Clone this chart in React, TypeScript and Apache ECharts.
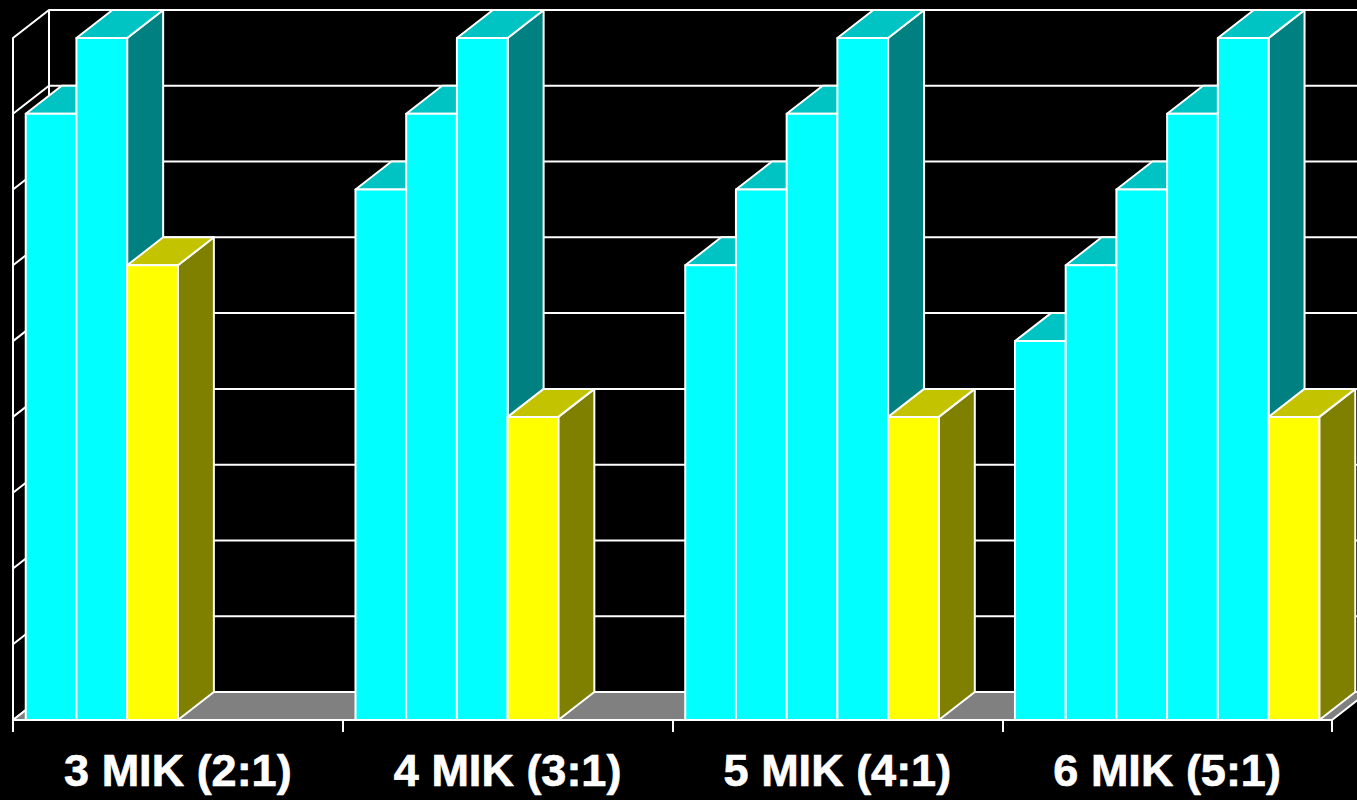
import React, { useEffect, useRef } from "react";
import * as echarts from "echarts";

const categories = ["3 MIK (2:1)", "4 MIK (3:1)", "5 MIK (4:1)", "6 MIK (5:1)"];
const cyanValues = [
  [8, 9],
  [7, 8, 9],
  [6, 7, 8, 9],
  [5, 6, 7, 8, 9],
];
const yellowValues = [6, 4, 4, 4];
const gridValues = [0, 1, 2, 3, 4, 5, 6, 7, 8, 9];

// Oblique projection of the box depth, in pixels.
const DEPTH_X = 36;
const DEPTH_Y = 28;
const BAR_SHARE = 0.1538; // share of a category band taken by one bar
const LINE = "#ffffff";
const LINE_WIDTH = 2;

const PALETTE = {
  cyan: { front: "#00ffff", top: "#00c3c3", side: "#008080" },
  yellow: { front: "#ffff00", top: "#c3c300", side: "#808000" },
};

// [category index, slot within the cluster, value, colour key]
const barRows: [number, number, number, string][] = [];
categories.forEach((_, c) => {
  cyanValues[c].forEach((v, s) => barRows.push([c, s, v, "cyan"]));
  barRows.push([c, cyanValues[c].length, yellowValues[c], "yellow"]);
});

const edge = { stroke: LINE, lineWidth: LINE_WIDTH, lineJoin: "round" };

function renderBar(_params: any, api: any) {
  const cat = api.value(0);
  const slot = api.value(1);
  const value = api.value(2);
  const colours = PALETTE[barRows[_params.dataIndex][3] as "cyan" | "yellow"];
  const band = api.size([1, 0])[0];
  const w = band * BAR_SHARE;
  const [cx, top] = api.coord([cat, value]);
  const [, base] = api.coord([cat, 0]);
  const left = cx - (w * 6) / 2 + slot * w;
  const right = left + w;
  return {
    type: "group",
    children: [
      {
        type: "polygon",
        shape: {
          points: [
            [right, base],
            [right + DEPTH_X, base - DEPTH_Y],
            [right + DEPTH_X, top - DEPTH_Y],
            [right, top],
          ],
        },
        style: { fill: colours.side, ...edge },
      },
      {
        type: "polygon",
        shape: {
          points: [
            [left, top],
            [left + DEPTH_X, top - DEPTH_Y],
            [right + DEPTH_X, top - DEPTH_Y],
            [right, top],
          ],
        },
        style: { fill: colours.top, ...edge },
      },
      {
        type: "rect",
        shape: { x: left, y: top, width: w, height: base - top },
        style: { fill: colours.front, ...edge },
      },
    ],
  };
}

// Gridline running along the left wall and then across the back wall.
function renderGridline(params: any, api: any) {
  const sys = params.coordSys;
  const y = api.coord([0, api.value(0)])[1];
  return {
    type: "polyline",
    shape: {
      points: [
        [sys.x, y],
        [sys.x + DEPTH_X, y - DEPTH_Y],
        [sys.x + sys.width + DEPTH_X, y - DEPTH_Y],
      ],
    },
    style: { fill: "none", stroke: LINE, lineWidth: LINE_WIDTH },
  };
}

// Grey floor plus the vertical edge where the two walls meet.
function renderFloor(params: any, api: any) {
  const sys = params.coordSys;
  const base = api.coord([0, 0])[1];
  const right = sys.x + sys.width;
  return {
    type: "group",
    children: [
      {
        type: "polygon",
        shape: {
          points: [
            [sys.x, base],
            [sys.x + DEPTH_X, base - DEPTH_Y],
            [right + DEPTH_X, base - DEPTH_Y],
            [right, base],
          ],
        },
        style: { fill: "#808080", ...edge },
      },
      {
        type: "line",
        shape: {
          x1: sys.x + DEPTH_X,
          y1: base - DEPTH_Y,
          x2: sys.x + DEPTH_X,
          y2: sys.y - DEPTH_Y,
        },
        style: { stroke: LINE, lineWidth: LINE_WIDTH },
      },
    ],
  };
}

export default function App() {
  const ref = useRef<HTMLDivElement>(null);

  useEffect(() => {
    const chart = echarts.init(ref.current!, null, { renderer: "svg" });
    chart.setOption({
      animation: false,
      backgroundColor: "#000000",
      grid: { left: 13, right: 25, top: 38, bottom: 80 },
      xAxis: {
        type: "category",
        data: categories,
        boundaryGap: true,
        axisLine: { show: true, lineStyle: { color: LINE, width: LINE_WIDTH } },
        axisTick: { show: true, length: 12, lineStyle: { color: LINE, width: LINE_WIDTH } },
        axisLabel: {
          interval: 0,
          color: "#ffffff",
          fontSize: 45,
          fontWeight: "bold",
          fontFamily: "Liberation Sans",
          margin: 28,
          textBorderColor: "#ffffff",
          textBorderWidth: 0.7,
        },
      },
      yAxis: {
        type: "value",
        min: 0,
        max: 9,
        interval: 1,
        axisLine: { show: true, lineStyle: { color: LINE, width: LINE_WIDTH } },
        axisTick: { show: false },
        axisLabel: { show: false },
        splitLine: { show: false },
      },
      series: [
        {
          type: "custom",
          z: 1,
          silent: true,
          data: gridValues.map((v) => [v]),
          encode: { y: 0 },
          renderItem: renderGridline,
        },
        {
          type: "custom",
          z: 2,
          silent: true,
          data: [[0, 0]],
          encode: { x: 0, y: 1 },
          renderItem: renderFloor,
        },
        {
          type: "custom",
          z: 3,
          silent: true,
          data: barRows.map((r) => [r[0], r[1], r[2]]),
          encode: { x: 0, y: 2 },
          renderItem: renderBar,
        },
      ],
    });
    return () => chart.dispose();
  }, []);

  return (
    <div
      ref={ref}
      style={{ position: "fixed", left: 0, top: 0, width: 1357, height: 800, background: "#000" }}
    />
  );
}
